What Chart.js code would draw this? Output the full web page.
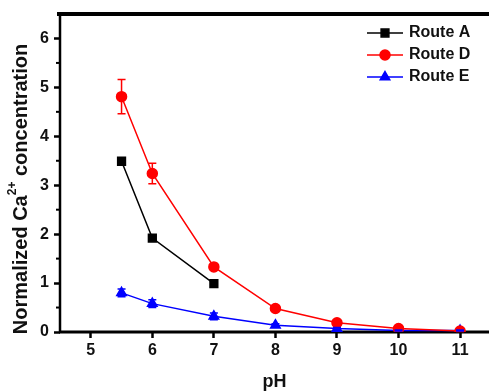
<!DOCTYPE html>
<html>
<head>
<meta charset="utf-8">
<script src="https://cdn.jsdelivr.net/npm/chart.js@4"></script>
<style>
  html, body { margin: 0; padding: 0; background: #fff; }
  #wrap { width: 489px; height: 391px; }
</style>
</head>
<body>
<div id="wrap"><canvas id="chart" width="489" height="391"></canvas></div>
<script>
// values
const phA = [5.5, 6, 7];
const routeA = [3.49, 1.92, 0.99];

const phD = [5.5, 6, 7, 8, 9, 10, 11];
const routeD = [4.81, 3.24, 1.33, 0.48, 0.19, 0.07, 0.02];
const errD = [0.35, 0.21, 0.05, 0.03, 0.02, 0.01, 0.01];

const phE = [5.5, 6, 7, 8, 9, 10, 11];
const routeE = [0.80, 0.58, 0.32, 0.14, 0.07, 0.03, 0.03];
const errE = [0.08, 0.08, 0.07, 0.03, 0.02, 0.01, 0.01];

const xTicks = [5, 6, 7, 8, 9, 10, 11];
const yTicks = [0, 1, 2, 3, 4, 5, 6];
const yMinor = [0.5, 1.5, 2.5, 3.5, 4.5, 5.5];

const FONT = 'Arial, "Liberation Sans", sans-serif';

function pts(xs, ys) {
    return xs.map((x, i) => ({ x: x, y: ys[i] }));
}

// axes, minor ticks, error bars, y title and legend
const extras = {
    id: 'extras',
    beforeDatasetsDraw(chart) {
        const ctx = chart.ctx;
        const a = chart.chartArea;
        const y = chart.scales.y;
        ctx.save();
        ctx.strokeStyle = '#000';
        // left axis
        ctx.lineWidth = 2.5;
        ctx.beginPath();
        ctx.moveTo(a.left, a.top);
        ctx.lineTo(a.left, a.bottom + 1);
        ctx.stroke();
        // bottom axis
        ctx.lineWidth = 3;
        ctx.beginPath();
        ctx.moveTo(a.left - 1, a.bottom);
        ctx.lineTo(a.right, a.bottom);
        ctx.stroke();
        // top frame
        ctx.lineWidth = 4;
        ctx.beginPath();
        ctx.moveTo(a.left - 3, a.top);
        ctx.lineTo(a.right, a.top);
        ctx.stroke();
        // minor ticks on y
        ctx.lineWidth = 2;
        yMinor.forEach(v => {
            const py = y.getPixelForValue(v);
            ctx.beginPath();
            ctx.moveTo(a.left - 4, py);
            ctx.lineTo(a.left, py);
            ctx.stroke();
        });
        ctx.restore();
    },
    afterDatasetsDraw(chart) {
        const ctx = chart.ctx;
        const y = chart.scales.y;
        const xs = chart.scales.x;
        ctx.save();
        chart.data.datasets.forEach(ds => {
            if (!ds.err) return;
            ctx.strokeStyle = ds.borderColor;
            ctx.lineWidth = 1.5;
            ds.data.forEach((p, i) => {
                const e = ds.err[i];
                const px = xs.getPixelForValue(p.x);
                const t = y.getPixelForValue(p.y + e);
                const b = y.getPixelForValue(p.y - e);
                ctx.beginPath();
                ctx.moveTo(px, t); ctx.lineTo(px, b);
                ctx.moveTo(px - 4, t); ctx.lineTo(px + 4, t);
                ctx.moveTo(px - 4, b); ctx.lineTo(px + 4, b);
                ctx.stroke();
            });
        });
        ctx.restore();
    },
    afterDraw(chart) {
        const ctx = chart.ctx;
        ctx.save();
        // y title with superscript
        ctx.translate(21, 189);
        ctx.rotate(-Math.PI / 2);
        ctx.fillStyle = '#111';
        ctx.textBaseline = 'middle';
        const big = 'bold 20px ' + FONT;
        const small = 'bold 12px ' + FONT;
        const p1 = 'Normalized Ca', sup = '2+', p2 = ' concentration';
        ctx.font = big;
        const w1 = ctx.measureText(p1).width, w3 = ctx.measureText(p2).width;
        ctx.font = small;
        const w2 = ctx.measureText(sup).width;
        let x0 = -(w1 + w2 + w3) / 2;
        ctx.font = big;
        ctx.fillText(p1, x0, 0);
        ctx.font = small;
        ctx.fillText(sup, x0 + w1, -8);
        ctx.font = big;
        ctx.fillText(p2, x0 + w1 + w2, 0);
        ctx.restore();

        // legend
        ctx.save();
        chart.data.datasets.forEach((ds, i) => {
            const ly = 33 + i * 22;
            ctx.strokeStyle = ds.borderColor;
            ctx.fillStyle = ds.borderColor;
            ctx.lineWidth = 1.5;
            ctx.beginPath();
            ctx.moveTo(367, ly);
            ctx.lineTo(403, ly);
            ctx.stroke();
            Chart.helpers.drawPoint(ctx, {
                pointStyle: ds.pointStyle,
                radius: ds.pointRadius,
                borderWidth: 1
            }, 385, ly);
            ctx.fillStyle = '#111';
            ctx.font = 'bold 16px ' + FONT;
            ctx.textBaseline = 'middle';
            ctx.fillText(ds.label, 409, ly);
        });
        ctx.restore();
    }
};

function noPad(s) {
    s.paddingLeft = 0;
    s.paddingRight = 0;
    s.paddingTop = 0;
    s.paddingBottom = 0;
}

new Chart(document.getElementById('chart'), {
    type: 'line',
    data: {
        datasets: [
            {
                label: 'Route A',
                data: pts(phA, routeA),
                borderColor: '#000000',
                backgroundColor: '#000000',
                pointStyle: 'rect',
                pointRadius: 5.5,
                borderWidth: 1.5
            },
            {
                label: 'Route D',
                data: pts(phD, routeD),
                err: errD,
                borderColor: '#ff0000',
                backgroundColor: '#ff0000',
                pointStyle: 'circle',
                pointRadius: 5,
                borderWidth: 1.5
            },
            {
                label: 'Route E',
                data: pts(phE, routeE),
                err: errE,
                borderColor: '#0000ff',
                backgroundColor: '#0000ff',
                pointStyle: 'triangle',
                pointRadius: 5.5,
                borderWidth: 1.5
            }
        ]
    },
    options: {
        responsive: false,
        animation: false,
        layout: { autoPadding: false, padding: { top: 14, right: 0, left: 0, bottom: 0 } },
        plugins: {
            legend: { display: false },
            tooltip: { enabled: false }
        },
        scales: {
            x: {
                type: 'linear',
                min: 4.5,
                max: 11.47,
                afterBuildTicks: s => { s.ticks = xTicks.map(v => ({ value: v })); },
                afterFit: s => { s.height = 59; noPad(s); },
                border: { display: false },
                grid: {
                    drawOnChartArea: false,
                    drawTicks: true,
                    tickLength: 6,
                    tickWidth: 2.5,
                    tickColor: '#000'
                },
                ticks: {
                    color: '#111',
                    font: { family: FONT, size: 16, weight: 'bold' },
                    padding: 3,
                    maxRotation: 0
                },
                title: {
                    display: true,
                    text: 'pH',
                    color: '#111',
                    font: { family: FONT, size: 18, weight: 'bold' },
                    padding: { top: 0, bottom: -2 }
                }
            },
            y: {
                type: 'linear',
                min: 0,
                max: 6.5,
                afterBuildTicks: s => { s.ticks = yTicks.map(v => ({ value: v })); },
                afterFit: s => { s.width = 60; noPad(s); },
                border: { display: false },
                grid: {
                    drawOnChartArea: false,
                    drawTicks: true,
                    tickLength: 6,
                    tickWidth: 2.5,
                    tickColor: '#000'
                },
                ticks: {
                    color: '#111',
                    font: { family: FONT, size: 16, weight: 'bold' },
                    padding: 5
                }
            }
        }
    },
    plugins: [extras]
});
</script>
</body>
</html>
